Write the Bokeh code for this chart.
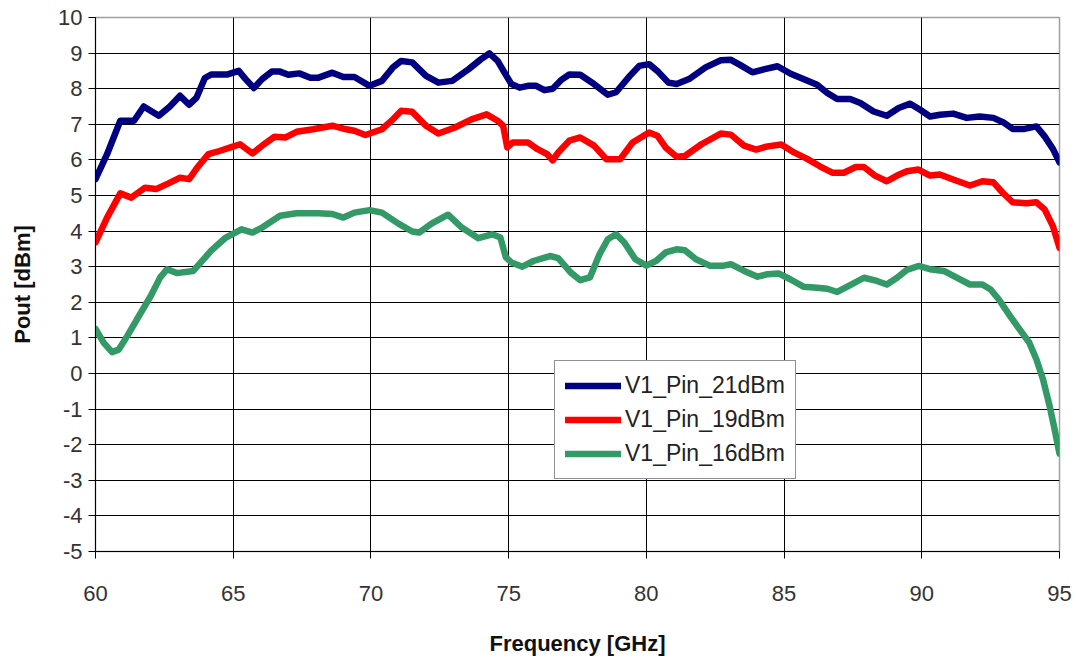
from bokeh.plotting import figure
from bokeh.models import Range1d, FixedTicker, Legend, LegendItem, CustomJSTickFormatter
from bokeh.embed import file_html
from bokeh.resources import INLINE

series_names = ["V1_Pin_21dBm", "V1_Pin_19dBm", "V1_Pin_16dBm"]
series_colors = ["#000080", "#FF0000", "#339966"]

freq_21 = [60.0, 60.42, 60.9, 61.4, 61.75, 62.3, 62.7, 63.07, 63.4, 63.67, 63.97, 64.2, 64.8, 65.2, 65.45,
           65.75, 66.05, 66.4, 66.7, 67.0, 67.4, 67.8, 68.1, 68.6, 69.0, 69.4, 69.95, 70.4, 70.8, 71.1,
           71.5, 72.0, 72.45, 72.95, 73.55, 74.0, 74.3, 74.6, 74.85, 75.1, 75.4, 75.7, 76.0, 76.3, 76.6,
           76.9, 77.2, 77.6, 78.1, 78.6, 78.9, 79.4, 79.74, 80.1, 80.4, 80.8, 81.1, 81.55, 82.15, 82.7,
           83.07, 83.4, 83.85, 84.3, 84.76, 85.24, 85.7, 86.2, 86.57, 86.93, 87.4, 87.77, 88.25, 88.73,
           89.16, 89.58, 89.94, 90.3, 90.66, 91.14, 91.63, 92.1, 92.6, 92.95, 93.3, 93.73, 94.16, 94.46,
           94.76, 95.0]
pout_21 = [5.46, 6.16, 7.1, 7.1, 7.5, 7.24, 7.5, 7.8, 7.55, 7.75, 8.3, 8.4, 8.4, 8.5, 8.27,
           8.02, 8.27, 8.48, 8.48, 8.39, 8.43, 8.31, 8.31, 8.45, 8.33, 8.33, 8.08, 8.22, 8.6, 8.78,
           8.74, 8.36, 8.17, 8.22, 8.55, 8.83, 8.99, 8.78, 8.45, 8.13, 8.03, 8.08, 8.08, 7.96, 8.0,
           8.24, 8.4, 8.39, 8.13, 7.83, 7.9, 8.36, 8.64, 8.69, 8.5, 8.17, 8.13, 8.27, 8.6, 8.8,
           8.81, 8.67, 8.46, 8.55, 8.63, 8.42, 8.27, 8.11, 7.88, 7.71, 7.71, 7.6, 7.36, 7.24,
           7.46, 7.58, 7.41, 7.22, 7.27, 7.3, 7.18, 7.22, 7.18, 7.06, 6.87, 6.87, 6.94, 6.66,
           6.31, 5.93]

freq_19 = [60.0, 60.42, 60.9, 61.3, 61.8, 62.2, 62.65, 63.07, 63.4, 63.7, 64.1, 64.5, 64.9, 65.25, 65.7,
           66.05, 66.5, 66.9, 67.3, 67.9, 68.6, 69.1, 69.4, 69.8, 70.4, 70.8, 71.1, 71.5, 72.0, 72.45,
           73.05, 73.65, 74.2, 74.6, 74.8, 74.95, 75.15, 75.7, 76.05, 76.4, 76.6, 76.8, 77.2, 77.6, 78.1,
           78.55, 79.05, 79.5, 80.1, 80.4, 80.7, 81.1, 81.4, 82.0, 82.7, 83.07, 83.55, 83.98, 84.4, 84.9,
           85.36, 85.84, 86.3, 86.75, 87.17, 87.6, 87.9, 88.3, 88.73, 89.1, 89.46, 89.88, 90.3, 90.66,
           91.14, 91.75, 92.2, 92.6, 92.95, 93.3, 93.8, 94.16, 94.46, 94.76, 95.0]
pout_19 = [3.68, 4.38, 5.06, 4.94, 5.22, 5.18, 5.34, 5.5, 5.46, 5.79, 6.16, 6.25, 6.35, 6.44, 6.18,
           6.4, 6.65, 6.63, 6.79, 6.86, 6.96, 6.86, 6.82, 6.7, 6.86, 7.14, 7.38, 7.35, 6.96, 6.74,
           6.91, 7.14, 7.28, 7.1, 6.96, 6.35, 6.49, 6.49, 6.3, 6.16, 5.99, 6.21, 6.54, 6.63, 6.4,
           6.02, 6.02, 6.49, 6.77, 6.68, 6.35, 6.09, 6.11, 6.44, 6.74, 6.71, 6.4, 6.29, 6.38, 6.43,
           6.21, 6.03, 5.82, 5.64, 5.64, 5.8, 5.8, 5.56, 5.4, 5.56, 5.68, 5.73, 5.56, 5.59,
           5.45, 5.28, 5.4, 5.37, 5.07, 4.81, 4.78, 4.81, 4.61, 4.14, 3.53]

freq_16 = [60.0, 60.3, 60.6, 60.84, 61.15, 61.6, 62.0, 62.35, 62.6, 62.95, 63.55, 63.8, 64.2, 64.7, 65.3,
           65.7, 66.05, 66.7, 67.3, 68.1, 68.6, 69.0, 69.4, 69.95, 70.4, 71.0, 71.5, 71.75, 72.2, 72.8,
           73.3, 73.9, 74.4, 74.7, 74.9, 75.1, 75.5, 75.9, 76.5, 76.8, 77.25, 77.6, 77.95, 78.3, 78.6,
           78.9, 79.2, 79.6, 80.0, 80.35, 80.7, 81.1, 81.4, 81.8, 82.3, 82.8, 83.07, 83.55, 84.04, 84.4,
           84.8, 85.24, 85.7, 86.2, 86.57, 86.93, 87.4, 87.9, 88.37, 88.73, 89.1, 89.46, 89.88, 90.3,
           90.8, 91.27, 91.75, 92.2, 92.5, 92.8, 93.2, 93.55, 93.9, 94.16, 94.4, 94.64, 94.82, 95.0]
pout_16 = [1.25, 0.86, 0.6, 0.67, 1.05, 1.65, 2.17, 2.7, 2.93, 2.82, 2.88, 3.1, 3.45, 3.8, 4.05,
           3.96, 4.1, 4.43, 4.5, 4.5, 4.48, 4.38, 4.52, 4.59, 4.52, 4.21, 3.99, 3.96, 4.21, 4.46,
           4.1, 3.8, 3.91, 3.82, 3.26, 3.12, 3.0, 3.16, 3.3, 3.24, 2.84, 2.62, 2.7, 3.35, 3.77,
           3.91, 3.68, 3.21, 3.03, 3.16, 3.4, 3.49, 3.46, 3.21, 3.03, 3.03, 3.07, 2.88, 2.72, 2.79,
           2.81, 2.64, 2.44, 2.41, 2.38, 2.29, 2.48, 2.69, 2.6, 2.5, 2.69, 2.91, 3.02, 2.93,
           2.88, 2.69, 2.5, 2.5, 2.36, 2.08, 1.62, 1.24, 0.87, 0.4, -0.16, -0.91, -1.56, -2.25]

x_ticks = [60, 65, 70, 75, 80, 85, 90, 95]
y_ticks = list(range(-5, 11))

p = figure(width=1076, height=658, output_backend="svg", toolbar_location=None,
           x_range=Range1d(60, 95), y_range=Range1d(-5, 10),
           min_border_left=95, min_border_right=17, min_border_top=17, min_border_bottom=107)

p.background_fill_color = "white"
p.border_fill_color = "white"
p.outline_line_color = "#a0a0a0"
p.outline_line_width = 1.5

plain = CustomJSTickFormatter(code="return String(tick);")
for ax in (p.xaxis[0], p.yaxis[0]):
    ax.axis_line_color = "black"
    ax.axis_line_width = 1
    ax.major_tick_line_color = "black"
    ax.major_tick_in = 0
    ax.major_tick_out = 7
    ax.minor_tick_line_color = None
    ax.formatter = plain
    ax.major_label_text_font = "Liberation Sans"
    ax.major_label_text_font_size = "22px"
    ax.major_label_text_color = "#333333"
    ax.axis_label_text_font = "Liberation Sans"
    ax.axis_label_text_font_style = "bold"
    ax.axis_label_text_font_size = "22px"
    ax.axis_label_text_color = "#111111"

p.xaxis[0].ticker = FixedTicker(ticks=x_ticks)
p.yaxis[0].ticker = FixedTicker(ticks=y_ticks)
p.xaxis[0].axis_label = "Frequency [GHz]"
p.yaxis[0].axis_label = "Pout [dBm]"
p.xaxis[0].major_label_standoff = 27
p.xaxis[0].axis_label_standoff = 27
p.yaxis[0].major_label_standoff = 6
p.yaxis[0].axis_label_standoff = 20

p.xgrid[0].ticker = FixedTicker(ticks=x_ticks)
p.ygrid[0].ticker = FixedTicker(ticks=y_ticks)
for g in (p.xgrid[0], p.ygrid[0]):
    g.grid_line_color = "black"
    g.grid_line_width = 1
    g.grid_line_alpha = 1.0

renderers = []
for fx, py, c in zip([freq_21, freq_19, freq_16], [pout_21, pout_19, pout_16], series_colors):
    r = p.line(fx, py, line_color=c, line_width=6.5, line_join="round", line_cap="round")
    renderers.append(r)

legend = Legend(items=[LegendItem(label=n, renderers=[r]) for n, r in zip(series_names, renderers)],
                location=(459, 72), orientation="vertical")
legend.margin = 0
legend.padding = 10
legend.spacing = 5
legend.label_height = 29
legend.glyph_height = 29
legend.glyph_width = 56
legend.label_standoff = 4
legend.label_text_font = "Liberation Sans"
legend.label_text_font_size = "23px"
legend.label_text_color = "#222222"
legend.border_line_color = "#222222"
legend.border_line_width = 1
legend.background_fill_color = "white"
legend.background_fill_alpha = 1.0
p.add_layout(legend, "center")

open("out.html", "w").write(file_html(p, INLINE))
